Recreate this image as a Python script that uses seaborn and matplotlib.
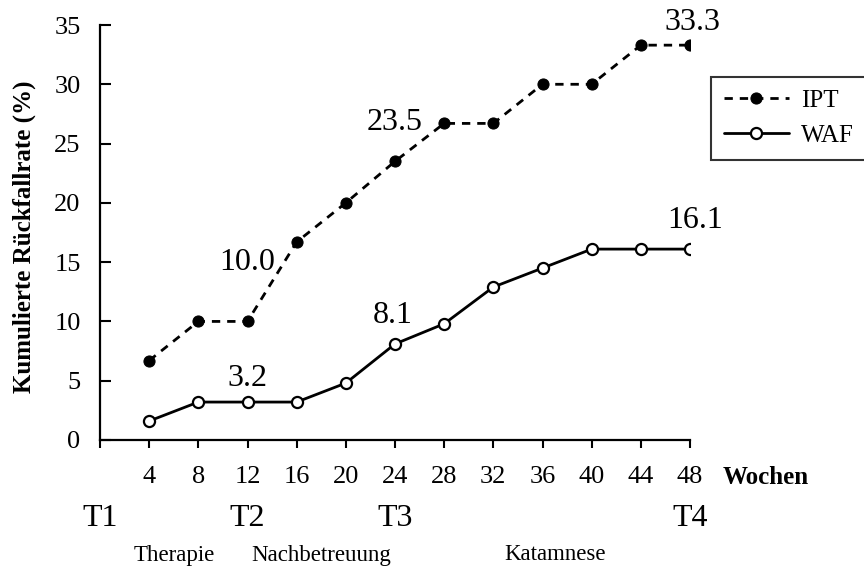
import numpy as np
import matplotlib
matplotlib.use("Agg")
import matplotlib.pyplot as plt
import matplotlib.transforms as mtransforms
import pandas as pd
import seaborn as sns

# data
weeks = [4, 8, 12, 16, 20, 24, 28, 32, 36, 40, 44, 48]
ipt = [6.7, 10.0, 10.0, 16.7, 20.0, 23.5, 26.7, 26.7, 30.0, 30.0, 33.3, 33.3]
waf = [1.6, 3.2, 3.2, 3.2, 4.8, 8.1, 9.8, 12.9, 14.5, 16.1, 16.1, 16.1]
x_ticks = [0] + weeks
x_ticklabels = [''] + [str(w) for w in weeks]
y_ticks = [0, 5, 10, 15, 20, 25, 30, 35]

# labelled values: (week, text, label y)
ipt_labels = [(12, '10.0', 15.0), (24, '23.5', 26.8), (48.2, '33.3', 35.2)]
waf_labels = [(12, '3.2', 5.2), (23.8, '8.1', 10.5), (48.4, '16.1', 18.5)]
timepoints = ['T1', 'T2', 'T3', 'T4']
timepoint_weeks = [0, 12, 24, 48]
phases = ['Therapie', 'Nachbetreuung', 'Katamnese']
phase_weeks = [6, 18, 37]

sns.set_style('ticks')
plt.rcParams['font.family'] = ['Liberation Serif', 'DejaVu Serif']
plt.rcParams['text.color'] = 'black'
plt.rcParams['axes.labelcolor'] = 'black'

fig = plt.figure(figsize=(8.64, 5.70), dpi=100)
ax = fig.add_axes([100/864, 1 - 440/570, 590/864, 415/570])

sns.lineplot(x=weeks, y=ipt, ax=ax, color='black', linestyle=(0, (3, 2.5)),
             linewidth=2, marker='o', markersize=8, markerfacecolor='black',
             markeredgecolor='black', label='IPT')
sns.lineplot(x=weeks, y=waf, ax=ax, color='black', linestyle='-',
             linewidth=2, marker='o', markersize=8, markerfacecolor='white',
             markeredgecolor='black', markeredgewidth=1.6, label='WAF')

ax.set_xlim(0, 48)
ax.set_ylim(0, 35)
ax.set_xticks(x_ticks)
ax.set_xticklabels(x_ticklabels)
ax.set_yticks(y_ticks)
ax.tick_params(axis='x', direction='out', length=6, width=1.5, pad=13,
               labelsize=19, colors='black')
ax.tick_params(axis='y', direction='in', length=8, width=1.5, pad=14,
               labelsize=19, colors='black')
sns.despine(ax=ax)
for s in ['left', 'bottom']:
    ax.spines[s].set_linewidth(1.6)
    ax.spines[s].set_color('black')
ax.set_xlabel('')
ax.set_ylabel('Kumulierte Rückfallrate (%)', fontsize=18, fontweight='bold',
              color='black')
ax.yaxis.set_label_coords((36 - 100) / 590, (440 - 237) / 415)

for wk, txt, yy in ipt_labels + waf_labels:
    ax.text(wk, yy, txt, ha='center', va='center', fontsize=23, color='black')

fig.text(723/864, 1 - 477/570, 'Wochen', ha='left', va='center',
         fontsize=18, fontweight='bold', color='black')

trans = mtransforms.blended_transform_factory(ax.transData, fig.transFigure)
for t, wk in zip(timepoints, timepoint_weeks):
    ax.text(wk, 1 - 518/570, t, transform=trans, ha='center', va='center',
            fontsize=23, color='black', clip_on=False)
for p, wk in zip(phases, phase_weeks):
    ax.text(wk, 1 - 555/570, p, transform=trans, ha='center', va='center',
            fontsize=16.5, color='black', clip_on=False)

leg = ax.legend(loc='upper left', bbox_to_anchor=(711/864, 1 - 77/570),
                bbox_transform=fig.transFigure, fontsize=18, frameon=True,
                fancybox=False, handlelength=2.6, labelspacing=0.5,
                borderpad=0.5, handletextpad=0.5, borderaxespad=0)
leg.get_frame().set_edgecolor('black')
leg.get_frame().set_linewidth(1.5)
for txt in leg.get_texts():
    txt.set_color('black')

fig.savefig('out.png', dpi=100)
